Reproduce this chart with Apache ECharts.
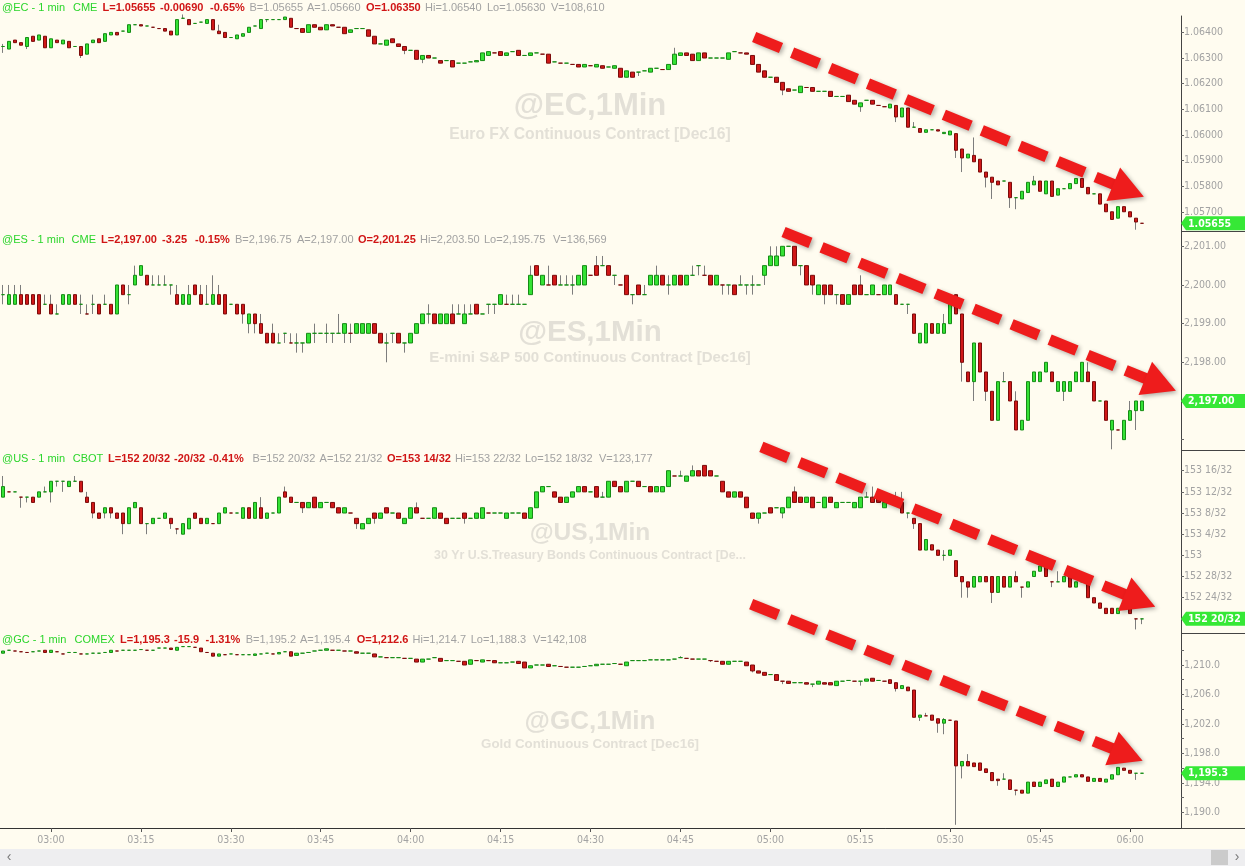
<!DOCTYPE html>
<html><head><meta charset="utf-8">
<script src="https://cdn.jsdelivr.net/npm/echarts@6/dist/echarts.min.js"></script>
<style>html,body{margin:0;padding:0;background:#fffcf0;}#c{width:1245px;height:866px;}</style>
</head><body><div id="c"></div>
<script>
// ---------------- DATA ----------------
// x-axis tick labels
const xTickLabels = ['03:00','03:15','03:30','03:45','04:00','04:15','04:30','04:45','05:00','05:15','05:30','05:45','06:00'];

// Euro FX (@EC) 1-min bars, 02:52 .. 06:02
const ecO = [
1.06345,1.06335,1.06370,1.06360,1.06345,1.06385,1.06370,1.06385,1.06340,1.06370,
1.06355,1.06365,1.06345,1.06345,1.06315,1.06360,1.06375,1.06365,1.06390,1.06400,
1.06405,1.06400,1.06430,1.06430,1.06425,1.06420,1.06415,1.06415,1.06405,1.06390,
1.06455,1.06450,1.06435,1.06440,1.06435,1.06450,1.06405,1.06400,1.06380,1.06375,
1.06385,1.06400,1.06425,1.06415,1.06450,1.06450,1.06450,1.06450,1.06455,1.06415,
1.06415,1.06400,1.06430,1.06420,1.06410,1.06430,1.06420,1.06420,1.06400,1.06415,
1.06415,1.06410,1.06385,1.06355,1.06350,1.06375,1.06355,1.06345,1.06330,1.06330,
1.06295,1.06310,1.06300,1.06290,1.06290,1.06290,1.06280,1.06280,1.06285,1.06285,
1.06290,1.06310,1.06320,1.06325,1.06310,1.06325,1.06330,1.06310,1.06310,1.06320,
1.06315,1.06315,1.06285,1.06280,1.06280,1.06275,1.06275,1.06265,1.06270,1.06265,
1.06270,1.06265,1.06260,1.06260,1.06225,1.06245,1.06245,1.06250,1.06245,1.06260,
1.06255,1.06255,1.06275,1.06310,1.06320,1.06315,1.06290,1.06320,1.06300,1.06300,
1.06300,1.06295,1.06325,1.06320,1.06320,1.06310,1.06275,1.06250,1.06225,1.06225,
1.06205,1.06180,1.06175,1.06165,1.06185,1.06185,1.06170,1.06170,1.06170,1.06150,
1.06150,1.06155,1.06135,1.06110,1.06135,1.06135,1.06115,1.06110,1.06105,1.06115,
1.06070,1.06105,1.06030,1.06025,1.06010,1.06020,1.06020,1.06005,1.06000,1.06005,
1.05945,1.05910,1.05920,1.05905,1.05855,1.05835,1.05820,1.05820,1.05815,1.05755,
1.05750,1.05775,1.05805,1.05820,1.05770,1.05820,1.05765,1.05790,1.05790,1.05810,
1.05830,1.05795,1.05770,1.05770,1.05730,1.05700,1.05675,1.05720,1.05700,1.05675,1.05655];
const ecC = [
1.06345,1.06365,1.06360,1.06350,1.06380,1.06365,1.06390,1.06340,1.06375,1.06360,
1.06370,1.06340,1.06345,1.06310,1.06355,1.06370,1.06360,1.06395,1.06400,1.06390,
1.06405,1.06430,1.06430,1.06425,1.06425,1.06420,1.06415,1.06405,1.06390,1.06450,
1.06455,1.06430,1.06435,1.06440,1.06450,1.06410,1.06395,1.06380,1.06380,1.06390,
1.06395,1.06420,1.06425,1.06450,1.06450,1.06450,1.06450,1.06460,1.06420,1.06415,
1.06400,1.06430,1.06420,1.06410,1.06430,1.06425,1.06420,1.06395,1.06410,1.06415,
1.06415,1.06385,1.06355,1.06355,1.06370,1.06360,1.06345,1.06330,1.06330,1.06295,
1.06310,1.06300,1.06300,1.06280,1.06290,1.06265,1.06280,1.06280,1.06285,1.06290,
1.06320,1.06325,1.06320,1.06310,1.06320,1.06325,1.06310,1.06310,1.06320,1.06320,
1.06315,1.06280,1.06285,1.06280,1.06280,1.06275,1.06265,1.06275,1.06270,1.06275,
1.06260,1.06265,1.06270,1.06225,1.06250,1.06225,1.06245,1.06250,1.06260,1.06260,
1.06255,1.06275,1.06315,1.06320,1.06310,1.06290,1.06320,1.06300,1.06300,1.06300,
1.06300,1.06320,1.06325,1.06320,1.06315,1.06275,1.06245,1.06225,1.06225,1.06205,
1.06175,1.06170,1.06175,1.06190,1.06185,1.06170,1.06170,1.06170,1.06150,1.06150,
1.06150,1.06130,1.06120,1.06125,1.06135,1.06120,1.06115,1.06110,1.06120,1.06070,
1.06105,1.06030,1.06030,1.06010,1.06020,1.06020,1.06015,1.06010,1.06015,1.05940,
1.05910,1.05925,1.05895,1.05855,1.05835,1.05815,1.05805,1.05820,1.05755,1.05755,
1.05780,1.05815,1.05820,1.05780,1.05820,1.05760,1.05790,1.05790,1.05810,1.05830,
1.05795,1.05770,1.05770,1.05730,1.05700,1.05670,1.05720,1.05700,1.05680,1.05660,1.05655];
const ecHiWick = {0:1.06355,30:1.06470,36:1.06430,112:1.06340,152:1.06050,162:1.05990,172:1.05840};
const ecLoWick = {0:1.06320,4:1.06335,13:1.06300,44:1.06440,67:1.06315,70:1.06280,106:1.06230,130:1.06155,143:1.06090,149:1.06050,159:1.05910,160:1.05855,164:1.05795,165:1.05750,168:1.05715,169:1.05710,189:1.05630};

// E-mini S&P 500 (@ES)
const esO = [
2199.75,2199.5,2199.5,2199.75,2199.75,2199.75,2199.75,2199.5,2199.5,2199.25,
2199.5,2199.5,2199.75,2199.5,2199.25,2199.5,2199.5,2199.5,2199.5,2199.25,
2200,2199.75,2200,2200.25,2200.25,2200,2200,2200,2200,2199.75,
2199.5,2199.5,2200,2199.75,2199.5,2199.5,2199.75,2199.75,2199.5,2199.5,
2199.5,2199,2199.25,2199,2198.75,2198.75,2198.5,2198.75,2198.5,2198.5,
2198.5,2198.5,2198.75,2198.75,2198.75,2198.75,2198.75,2198.75,2198.75,2198.75,
2198.75,2198.75,2199,2198.75,2198.5,2198.75,2198.75,2198.5,2198.5,2198.75,
2199,2199.25,2199.25,2199,2199,2199.25,2199.25,2199,2199.25,2199.5,
2199.25,2199.5,2199.5,2199.5,2199.5,2199.5,2199.5,2199.5,2199.75,2200.5,
2200,2200,2200.25,2200,2200,2200,2200,2200,2200.25,2200.5,
2200.5,2200.5,2200.25,2200,2200.25,2199.75,2200,2199.75,2200,2200,
2200.25,2200,2200,2200.25,2200,2200.25,2200.5,2200.25,2200.25,2200,
2200,2200,2200,2200,2200,2200,2200,2200.25,2200.5,2200.5,
2200.75,2201,2201,2200.5,2200.5,2200.25,2199.75,2200,2200,2199.75,
2199.75,2199.5,2200,2200,2199.75,2199.75,2199.75,2199.75,2199.75,2199.75,
2199.5,2199.5,2199.25,2198.5,2198.5,2199,2198.75,2198.75,2199,2199.75,
2199.25,2197.75,2197.5,2198.5,2197.75,2197.25,2196.5,2197.5,2197.5,2197,
2196.25,2196.5,2197.5,2197.5,2197.75,2197.75,2197.25,2197.25,2197.25,2197.5,
2197.5,2197.75,2197.5,2197,2197,2196.25,2196.25,2196,2196.5,2196.75,2196.75];
const esC = [
2199.75,2199.75,2199.75,2199.5,2199.5,2199.5,2199.25,2199.5,2199.25,2199.25,
2199.75,2199.75,2199.5,2199.5,2199.25,2199.5,2199.25,2199.5,2199.25,2200,
2199.75,2199.75,2200.25,2200.5,2200,2200,2200,2200,2200,2199.5,
2199.75,2199.75,2199.75,2199.5,2199.5,2199.75,2199.5,2199.25,2199.5,2199.25,
2199.25,2199.25,2199,2198.75,2198.5,2198.5,2198.5,2198.75,2198.5,2198.5,
2198.5,2198.75,2198.75,2198.75,2198.75,2198.75,2198.75,2199,2198.75,2199,
2199,2199,2198.75,2198.5,2198.5,2198.75,2198.5,2198.5,2198.75,2199,
2199.25,2199.25,2199,2199.25,2199.25,2199,2199.25,2199.25,2199.25,2199.25,
2199.25,2199.5,2199.5,2199.75,2199.5,2199.5,2199.5,2199.5,2200.25,2200.25,
2200.25,2200,2200,2200,2200,2200,2200.25,2200.5,2200.25,2200.25,
2200.5,2200.25,2200.25,2200,2199.75,2199.75,2199.75,2199.75,2200.25,2200.25,
2200,2200,2200.25,2200,2200.25,2200.25,2200.5,2200.25,2200,2200.25,
2200,2200,2199.75,2200,2200,2200,2200,2200.5,2200.75,2200.75,
2201,2201,2200.5,2200.5,2200,2200,2200,2199.75,2199.75,2199.75,
2199.5,2199.75,2199.75,2199.75,2199.75,2200,2199.75,2200,2200,2199.5,
2199.5,2199.5,2198.75,2198.75,2199,2198.75,2199,2199,2199.5,2199.25,
2198,2197.5,2198.5,2197.75,2197.25,2196.5,2197.5,2197.5,2197,2196.25,
2196.5,2197.5,2197.75,2197.75,2198,2197.5,2197.5,2197.5,2197.5,2197.75,
2198,2197.5,2197,2197,2196.5,2196.5,2196.25,2196.5,2196.75,2197,2197];
const esHiWick = {0:2200,1:2200,2:2200,3:2200,7:2199.75,8:2199.75,9:2199.5,13:2199.75,14:2199.5,15:2199.75,17:2199.75,21:2200,22:2200.5,25:2200.25,26:2200.25,27:2200.25,29:2200,31:2200,33:2200,34:2200,35:2200.25,36:2200,43:2199.25,45:2199,46:2198.75,48:2198.75,49:2198.75,52:2199,54:2199,56:2199.25,58:2199,64:2198.75,71:2199.5,75:2199.5,76:2199.5,77:2199.5,78:2199.5,84:2199.75,85:2199.75,86:2199.75,88:2200.5,91:2200.5,93:2200.25,94:2200.25,95:2200.25,99:2200.75,100:2200.75,107:2200,109:2200.5,111:2200.25,115:2200.5,117:2200.5,123:2200.25,125:2200.25,128:2201,129:2201,143:2200.25,157:2199.25,158:2199.75,167:2197.75,169:2197.25,181:2198,188:2197};
const esLoWick = {0:2199.5,13:2199.25,15:2199.25,21:2199.5,28:2199.75,40:2199,41:2198.75,42:2198.75,47:2198.5,49:2198.25,50:2198.25,52:2198.5,54:2198.5,55:2198.5,57:2198.5,58:2198.5,64:2198,65:2198.5,67:2198.25,71:2199,81:2199.25,82:2199.25,95:2199.75,102:2200,105:2199.5,111:2199.75,116:2200.25,120:2199.75,121:2199.75,124:2199.75,125:2199.75,127:2200,133:2200.25,135:2199.75,137:2199.5,139:2199.5,151:2199.25,160:2197.5,162:2197,164:2197,177:2197,185:2195.75,189:2196.25};

// 30 Yr T-Bond (@US): prices as 32nds above/below 153 (e.g. 11 = 153 11/32, -12 = 152 20/32)
const usBase = 153;
const usO32 = [
11,12,12,11,11,11,11,12,12,14,
14,13,14,14,11,10,8,8,9,8,
8,6,9,9,6,6,7,7,7,5,
4,5,8,7,6,6,6,8,8,8,
7,9,7,9,7,8,8,12,11,10,
10,9,11,9,10,10,9,8,8,7,
5,6,8,7,9,8,8,6,7,9,
7,7,7,8,7,7,7,8,7,7,
7,8,8,8,7,8,8,8,7,9,
12,13,12,11,10,11,12,13,12,13,
11,11,14,13,12,14,14,13,13,12,
12,13,15,15,14,15,16,17,16,15,
14,12,11,12,11,8,7,8,9,9,
8,9,12,11,10,11,10,9,11,9,
10,10,9,9,11,11,11,9,11,11,
10,8,7,6,1,2,1,0,0,-1,
-4,-5,-6,-5,-4,-4,-7,-4,-6,-4,
-6,-6,-4,-3,-2,-5,-5,-5,-4,-6,
-5,-5,-8,-9,-10,-10,-11,-10,-10,-12,-12];
const usC32 = [
13,12,12,11,11,10,12,12,14,14,
14,14,14,12,10,8,7,9,8,7,
6,9,10,6,6,7,7,8,6,5,
6,7,7,6,7,6,8,9,8,8,
9,7,10,7,8,8,11,11,10,10,
9,10,9,10,10,9,8,9,8,6,
6,7,7,8,8,8,7,7,9,8,
7,7,9,7,6,7,7,7,7,8,
9,8,8,8,8,8,8,7,9,12,
13,13,11,10,11,12,13,12,12,11,
11,14,13,12,14,14,13,13,12,13,
13,16,15,15,15,16,15,15,15,15,
12,11,12,11,9,7,8,8,8,9,
9,11,10,10,11,9,10,11,10,10,
10,10,10,11,11,10,10,10,10,10,
8,8,6,1,3,1,0,0,1,-4,
-5,-6,-4,-4,-5,-7,-4,-6,-4,-5,
-6,-5,-3,-2,-4,-5,-5,-4,-6,-5,
-5,-8,-9,-10,-11,-11,-10,-10,-11,-12,-12];
const usHiWick32 = {0:15,7:13,12:15,14:12,43:11,47:13,69:10,100:12,113:16,115:17,132:13,144:12,145:13,149:12,150:12,157:1,169:-3,176:-3};
const usLoWick32 = {3:9,4:10,8:10,9:13,10:12,15:7,17:7,18:7,20:4,24:4,28:5,29:4,50:8,59:5,62:6,77:6,126:6,130:7,151:7,152:5,157:-1,160:-8,161:-8,165:-9,170:-8,175:-6,189:-14,190:-13};

// Gold (@GC)
const gcO = [
1211.6,1212.0,1211.9,1211.8,1211.7,1211.8,1211.9,1212.0,1211.7,1211.8,
1211.5,1211.7,1211.7,1211.5,1211.5,1211.6,1211.6,1211.7,1211.7,1211.9,
1212.0,1212.0,1212.0,1212.1,1212.0,1212.0,1212.3,1212.3,1212.3,1212.0,
1212.5,1212.5,1212.4,1212.3,1211.7,1211.6,1211.2,1211.4,1211.5,1211.4,
1211.4,1211.4,1211.3,1211.5,1211.6,1211.5,1211.5,1211.8,1211.8,1211.3,
1211.6,1211.7,1211.9,1212.0,1212.0,1212.0,1212.0,1211.9,1211.9,1211.8,
1211.6,1211.6,1211.5,1211.1,1211.0,1211.0,1211.0,1210.9,1210.9,1210.8,
1210.4,1210.8,1211.0,1210.9,1210.6,1210.6,1210.5,1210.5,1210.1,1210.6,
1210.4,1210.6,1210.6,1210.3,1210.3,1210.4,1210.5,1210.4,1209.6,1210.0,
1210.0,1210.1,1209.9,1209.8,1209.7,1209.7,1209.7,1209.8,1209.9,1209.9,
1210.1,1210.1,1210.2,1210.1,1209.9,1210.6,1210.6,1210.6,1210.7,1210.7,
1210.7,1210.7,1210.8,1211.0,1210.9,1210.8,1210.8,1210.8,1210.6,1210.5,
1210.5,1210.1,1210.5,1210.5,1210.4,1210.0,1209.2,1209.0,1208.7,1208.7,
1207.8,1207.8,1207.6,1207.6,1207.6,1207.4,1207.4,1207.6,1207.6,1207.2,
1207.8,1207.9,1207.8,1207.8,1207.8,1208.2,1207.9,1207.8,1208.0,1207.6,
1206.8,1207.0,1206.6,1202.9,1203.1,1203.2,1202.7,1202.1,1202.5,1202.4,
1196.3,1196.9,1196.7,1196.7,1195.9,1195.4,1194.5,1194.5,1194.4,1193.0,
1193.0,1192.6,1194.1,1193.5,1193.9,1194.5,1193.5,1194.1,1194.8,1194.8,
1195.1,1194.8,1194.2,1194.6,1194.1,1194.5,1195.1,1196.0,1195.7,1195.3,1195.3];
const gcC = [
1211.9,1212.0,1211.9,1211.8,1211.7,1211.8,1211.9,1211.7,1212.0,1211.8,
1211.5,1211.7,1211.7,1211.5,1211.5,1211.6,1211.6,1211.7,1212.0,1211.9,
1212.0,1212.0,1212.0,1212.1,1212.0,1212.0,1212.3,1212.3,1212.1,1212.4,
1212.5,1212.5,1212.4,1211.8,1211.7,1211.2,1211.5,1211.4,1211.5,1211.4,
1211.4,1211.4,1211.5,1211.5,1211.6,1211.5,1211.7,1211.8,1211.2,1211.6,
1211.6,1211.7,1211.9,1212.0,1212.2,1212.0,1212.0,1211.9,1211.9,1211.6,
1211.6,1211.6,1211.1,1211.1,1211.0,1211.0,1211.0,1210.9,1210.9,1210.4,
1210.8,1210.8,1211.0,1210.5,1210.6,1210.6,1210.5,1210.0,1210.7,1210.6,
1210.7,1210.6,1210.3,1210.3,1210.3,1210.4,1210.2,1209.6,1209.9,1210.0,
1210.0,1209.8,1209.9,1209.8,1209.7,1209.7,1209.7,1209.8,1209.9,1210.1,
1210.1,1210.1,1210.2,1210.1,1210.4,1210.6,1210.6,1210.6,1210.7,1210.7,
1210.7,1210.7,1210.8,1211.0,1210.9,1210.8,1210.8,1210.8,1210.6,1210.5,
1210.1,1210.5,1210.5,1210.5,1209.9,1209.2,1208.9,1208.6,1208.7,1207.9,
1207.8,1207.5,1207.6,1207.6,1207.4,1207.4,1207.8,1207.4,1207.3,1207.8,
1207.8,1207.9,1207.8,1207.8,1208.1,1207.8,1207.9,1207.8,1207.5,1206.8,
1207.2,1206.5,1202.9,1203.2,1203.1,1202.5,1202.1,1202.6,1202.5,1196.3,
1196.9,1196.3,1196.2,1195.7,1195.4,1194.3,1194.3,1194.5,1193.1,1193.0,
1192.6,1194.1,1193.5,1194.1,1194.4,1193.5,1194.1,1194.8,1194.8,1195.1,
1194.8,1194.2,1194.6,1194.2,1194.5,1195.1,1196.1,1195.7,1195.3,1195.3,1195.3];
const gcHiWick = {113:1211.2,154:1203.5,157:1202.8,161:1197.9,167:1195.3};
const gcLoWick = {118:1210.4,125:1209.0,130:1207.4,135:1207.0,143:1207.2,149:1206.4,153:1202.4,156:1200.8,157:1200.6,159:1188.3,160:1194.6,166:1193.6,169:1192.3,189:1194.4};

// Right-axis ticks / labels
const ecTicks = [1.057,1.058,1.059,1.060,1.061,1.062,1.063,1.064];
const esTicks = [2196,2197,2198,2199,2200,2201];
const esLabels = [2197,2198,2199,2200,2201];
const usTicks32 = [-12,-8,-4,0,4,8,12,16];
const gcTicks = [1190,1192,1194,1196,1198,1200,1202,1204,1206,1208,1210,1212];
const gcLabels = [1190,1194,1198,1202,1206,1210];

// Header texts
const headerTexts = [
 ['@EC - 1 min','CME','L=1.05655','-0.00690','-0.65%','B=1.05655','A=1.05660','O=1.06350','Hi=1.06540','Lo=1.05630','V=108,610'],
 ['@ES - 1 min','CME','L=2,197.00','-3.25','-0.15%','B=2,196.75','A=2,197.00','O=2,201.25','Hi=2,203.50','Lo=2,195.75','V=136,569'],
 ['@US - 1 min','CBOT','L=152 20/32','-20/32','-0.41%','B=152 20/32','A=152 21/32','O=153 14/32','Hi=153 22/32','Lo=152 18/32','V=123,177'],
 ['@GC - 1 min','COMEX','L=1,195.3','-15.9','-1.31%','B=1,195.2','A=1,195.4','O=1,212.6','Hi=1,214.7','Lo=1,188.3','V=142,108']
];
const wmTitles = ['@EC,1Min','@ES,1Min','@US,1Min','@GC,1Min'];
const wmSubs = ['Euro FX Continuous Contract [Dec16]','E-mini S&P 500 Continuous Contract [Dec16]','30 Yr U.S.Treasury Bonds Continuous Contract [De...','Gold Continuous Contract [Dec16]'];

// Trend arrows (annotation) in data coords: [minute index from 02:52, price]
const arrowEC = [[125.3, 1.06382],[190.3, 1.057586]];
const arrowES = [[130.2, 2201.37],[195.65, 2197.266]];
const arrowUS32 = [[126.5, 20.5],[192.2, -9.7]];
const arrowGC = [[124.8, 1218.28],[190.1, 1197.0]];

// ---------------- LAYOUT / STYLE ----------------
const FONT = "'Liberation Sans', Arial, Helvetica, sans-serif";
const FONT_N = "'DejaVu Sans Condensed', 'Liberation Sans Narrow', sans-serif";
const BG = '#fffcf0';
const headerColorKeys = ['g','g','r','r','r','k','k','r','k','k','k'];
const headerX = [
 [2,73,102.5,160,210,249.5,307,366,425,487,551],
 [2,71.6,101,162,195,235,297,358,420,484,553],
 [2,72.7,108,174,209,252.6,319.6,387,455,525,599],
 [2,74.6,120,174,205.5,245.7,300,356.7,412.5,470.7,533]
];
const headerY = [8, 240, 459, 640];
const wmTitleY = [106, 333, 533, 722];
const wmSubY = [135, 358, 556, 744];
const wmTitleSize = [31, 29.5, 24.5, 26];
const wmSubSize = [15.7, 15, 12.4, 13.3];
const grids = [
 {top:16, height:215, min:1.05625, max:1.06464},
 {top:231, height:219, min:2195.732, max:2201.396},
 {top:450, height:183, min:152.5415, max:153.6222},
 {top:633, height:195, min:1187.868, max:1214.345}
];

const pad = n => String(n).padStart(2,'0');
const times = [];
for (let m = 2*60+52; m <= 6*60+8; m++) times.push(pad(Math.floor(m/60)) + ':' + pad(m%60));

const us = n => usBase + n/32;
const id = v => v;
const fmtEC = v => v.toFixed(5);
const fmtES = v => v.toLocaleString('en-US',{minimumFractionDigits:2,maximumFractionDigits:2});
const fmtGC = v => v.toLocaleString('en-US',{minimumFractionDigits:1,maximumFractionDigits:1});
const fmtUS = v => { const w = Math.floor(v + 1e-9); const f = Math.round((v - w) * 32); return f === 0 ? String(w) : (w + ' ' + f + '/32'); };

function build(O, C, hiW, loW, conv) {
  const wick = [], body = [];
  for (let i = 0; i < O.length; i++) {
    const o = conv(O[i]), c = conv(C[i]);
    const h = hiW[i] != null ? conv(hiW[i]) : Math.max(o, c);
    const l = loW[i] != null ? conv(loW[i]) : Math.min(o, c);
    wick.push([o, c, l, h]);
    body.push([o, c, Math.min(o, c), Math.max(o, c)]);
  }
  return {wick, body, last: conv(C[C.length - 1])};
}

const panels = [
  {d: build(ecO, ecC, ecHiWick, ecLoWick, id), ticks: ecTicks, labels: ecTicks, fmt: fmtEC},
  {d: build(esO, esC, esHiWick, esLoWick, id), ticks: esTicks, labels: esLabels, fmt: fmtES},
  {d: build(usO32, usC32, usHiWick32, usLoWick32, us), ticks: usTicks32.map(us), labels: usTicks32.map(us), fmt: fmtUS},
  {d: build(gcO, gcC, gcHiWick, gcLoWick, id), ticks: gcTicks, labels: gcLabels, fmt: fmtGC}
];
const arrows = [arrowEC, arrowES, arrowUS32.map(p => [p[0], us(p[1])]), arrowGC];

const chart = echarts.init(document.getElementById('c'), null, {renderer: 'canvas'});
const xShow = new Set(xTickLabels);
const option = {
  animation: false,
  backgroundColor: BG,
  grid: grids.map(g => ({left: 0, right: 64, top: g.top, height: g.height})),
  xAxis: grids.map((g, i) => ({
    type: 'category', gridIndex: i, data: times, boundaryGap: true,
    axisLine: {show: i === 3, lineStyle: {color: '#333', width: 1}},
    axisTick: {show: i === 3, alignWithLabel: true, length: 4, interval: (k, v) => xShow.has(v), lineStyle: {color: '#555'}},
    axisLabel: {show: i === 3, interval: (k, v) => xShow.has(v), color: '#a3a3a3', fontSize: 10.5, fontFamily: FONT_N, margin: 7},
    splitLine: {show: false}
  })),
  yAxis: grids.map((g, i) => ({
    type: 'value', gridIndex: i, position: 'right', min: g.min, max: g.max,
    axisLine: {show: true, lineStyle: {color: '#444'}},
    axisTick: {show: true, length: 3, customValues: panels[i].ticks, lineStyle: {color: '#666'}},
    axisLabel: {customValues: panels[i].labels, formatter: panels[i].fmt, color: '#a3a3a3', fontSize: 10.5, fontFamily: FONT_N, margin: 3},
    splitLine: {show: false}
  })),
  series: []
};
panels.forEach((p, i) => {
  option.series.push({
    type: 'candlestick', xAxisIndex: i, yAxisIndex: i, data: p.d.wick, barWidth: 1, silent: true,
    itemStyle: {color: '#7d7d7d', color0: '#7d7d7d', borderColor: '#7d7d7d', borderColor0: '#7d7d7d', borderWidth: 1}
  });
  option.series.push({
    type: 'candlestick', xAxisIndex: i, yAxisIndex: i, data: p.d.body, barWidth: 4, silent: true,
    itemStyle: {color: '#35e235', color0: '#d01818', borderColor: '#168c16', borderColor0: '#7c0c0c', borderWidth: 1}
  });
});
chart.setOption(option);

// ---------- graphics: headers, watermarks, separators, scrollbar, price boxes, arrows ----------
const colorMap = {g: '#2bd52b', r: '#d01515', k: '#a2a2a2'};
const G = [];
headerTexts.forEach((row, pi) => {
  row.forEach((t, k) => {
    const key = headerColorKeys[k];
    G.push({type: 'text', silent: true, z: 50, x: headerX[pi][k], y: headerY[pi],
      style: {text: t, fill: colorMap[key], font: (key === 'r' ? 'bold ' : '') + '11px ' + FONT, verticalAlign: 'middle', align: 'left'}});
  });
  G.push({type: 'text', silent: true, z: -5, x: 590, y: wmTitleY[pi],
    style: {text: wmTitles[pi], fill: '#e3e0d7', font: 'bold ' + wmTitleSize[pi] + 'px ' + FONT, align: 'center', verticalAlign: 'middle'}});
  G.push({type: 'text', silent: true, z: -5, x: 590, y: wmSubY[pi],
    style: {text: wmSubs[pi], fill: '#e3e0d7', font: 'bold ' + wmSubSize[pi] + 'px ' + FONT, align: 'center', verticalAlign: 'middle'}});
});
[231, 450, 633, 828].forEach(y => {
  G.push({type: 'line', silent: true, z: 5, shape: {x1: 1181, y1: y + 0.5, x2: 1245, y2: y + 0.5}, style: {stroke: '#444', lineWidth: 1}});
});
G.push({type: 'rect', silent: true, z: 5, shape: {x: 0, y: 849, width: 1245, height: 17}, style: {fill: '#eeeef0'}});
G.push({type: 'rect', silent: true, z: 6, shape: {x: 1211, y: 850, width: 17, height: 15}, style: {fill: '#cbcbcb'}});
G.push({type: 'text', silent: true, z: 6, x: 9, y: 857, style: {text: '‹', fill: '#777', font: '14px ' + FONT, align: 'center', verticalAlign: 'middle'}});
G.push({type: 'text', silent: true, z: 6, x: 1237, y: 857, style: {text: '›', fill: '#777', font: '14px ' + FONT, align: 'center', verticalAlign: 'middle'}});

// last-price boxes on the right axis
panels.forEach((p, gi) => {
  const y = chart.convertToPixel({gridIndex: gi}, [0, p.d.last])[1];
  G.push({type: 'polygon', silent: true, z: 60,
    shape: {points: [[1181, y], [1186, y - 7], [1245, y - 7], [1245, y + 7], [1186, y + 7]]},
    style: {fill: '#36e836'}});
  G.push({type: 'text', silent: true, z: 61, x: 1188, y: y + 0.5,
    style: {text: p.fmt(p.d.last), fill: '#ffffff', font: 'bold 10.5px ' + FONT_N, align: 'left', verticalAlign: 'middle'}});
});

function px(gi, idx, val) {
  const a = chart.convertToPixel({gridIndex: gi}, [0, val]);
  const b = chart.convertToPixel({gridIndex: gi}, [1, val]);
  return [a[0] + idx * (b[0] - a[0]), a[1]];
}
const RED = '#ee1c1c';
const shadow = {shadowBlur: 4, shadowOffsetX: 2, shadowOffsetY: 2, shadowColor: 'rgba(0,0,0,0.3)'};
arrows.forEach((a, gi) => {
  const s = px(gi, a[0][0], a[0][1]);
  const t = px(gi, a[1][0], a[1][1]);
  const dx = t[0] - s[0], dy = t[1] - s[1];
  const len = Math.hypot(dx, dy), ux = dx / len, uy = dy / len, nx = -uy, ny = ux;
  const HL = 33, HW = 18;
  const bx = t[0] - ux * HL, by = t[1] - uy * HL;
  G.push({type: 'line', silent: true, z: 100, shape: {x1: s[0], y1: s[1], x2: bx + ux * 2, y2: by + uy * 2},
    style: Object.assign({stroke: RED, lineWidth: 11, lineDash: [29, 12], lineCap: 'butt'}, shadow)});
  G.push({type: 'polygon', silent: true, z: 100, shape: {points: [[t[0], t[1]], [bx + nx * HW, by + ny * HW], [bx - nx * HW, by - ny * HW]]},
    style: Object.assign({fill: RED}, shadow)});
});
chart.setOption({graphic: G});
</script></body></html>
